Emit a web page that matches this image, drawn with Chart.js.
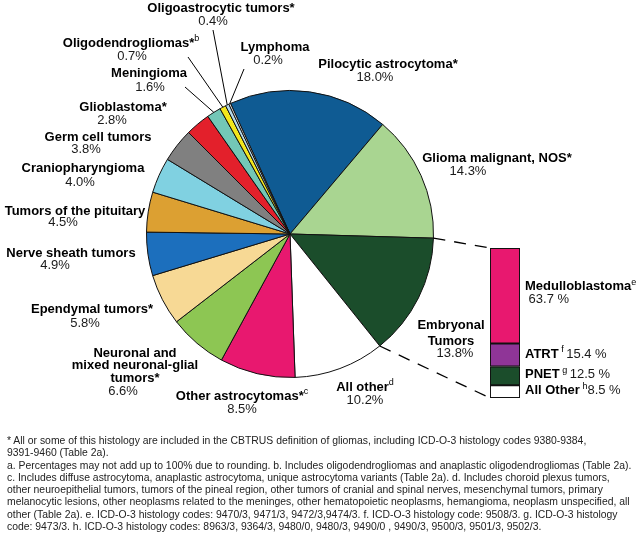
<!DOCTYPE html>
<html>
<head>
<meta charset="utf-8">
<script src="https://cdn.jsdelivr.net/npm/chart.js@4.4.1/dist/chart.umd.min.js"></script>
<style>
  html, body { margin: 0; padding: 0; background: #fff; }
  #wrap { position: relative; width: 640px; height: 537px; overflow: hidden; }
  #wrap canvas { position: absolute; left: 0; top: 0; }
  #notes {
    position: absolute; left: 7px; top: 435px;
    font: 10.4px "Liberation Sans", Arial, sans-serif; line-height: 12.3px;
    color: #222; white-space: pre;
  }
</style>
</head>
<body>
<div id="wrap">
  <canvas id="pie" width="640" height="430"></canvas>
  <canvas id="bar" width="640" height="430"></canvas>
  <div id="notes"></div>
</div>
<script>
// histologies, clockwise from the top
var categories = ["Pilocytic astrocytoma*", "Glioma malignant, NOS*", "Embryonal Tumors", "All other",
    "Other astrocytomas*", "Neuronal and mixed neuronal-glial tumors*", "Ependymal tumors*",
    "Nerve sheath tumors", "Tumors of the pituitary", "Craniopharyngioma", "Germ cell tumors",
    "Glioblastoma*", "Meningioma", "Oligodendrogliomas*", "Oligoastrocytic tumors*", "Lymphoma"];
var shares = [18.0, 14.3, 13.8, 10.2, 8.5, 6.6, 5.8, 4.9, 4.5, 4.0, 3.8, 2.8, 1.6, 0.7, 0.4, 0.2];
var notes = ["", "", "", "d", "c", "", "", "", "", "", "", "", "", "b", "", ""];

// embryonal tumors broken down
var embParts = ["Medulloblastoma", "ATRT", "PNET", "All Other"];
var embShares = [63.7, 15.4, 12.5, 8.5];
var embNotes = ["e", "f", "g", "h"];

var sliceColors = ["#0f5b93", "#a9d591", "#1b4d2b", "#ffffff", "#e8186f", "#8dc653", "#f7d995",
    "#1c6fbd", "#dca032", "#80d1e1", "#808080", "#e3202b", "#73c7b7", "#f3e61d", "#b3d8ea", "#e6e6e6"];
var embColors = ["#e8186f", "#8f3597", "#1b4d2b", "#ffffff"];

// where each slice label sits: name (x,y), percent (px,py), optional leader start
var labelSpots = [
    { x: 388, y: 64, px: 375, py: 77 },
    { x: 497, y: 158, px: 468, py: 171 },
    { x: 451, y: 325, px: 455, py: 353, lines: ["Embryonal", "Tumors"], lh: 16 },
    { x: 365, y: 387, px: 365, py: 400 },
    { x: 242, y: 396, px: 242, py: 409 },
    { x: 135, y: 353, px: 123, py: 391, lines: ["Neuronal and", "mixed neuronal-glial", "tumors*"], lh: 12.5 },
    { x: 92, y: 309, px: 85, py: 323 },
    { x: 71, y: 253, px: 55, py: 265 },
    { x: 75, y: 211, px: 63, py: 222 },
    { x: 83, y: 168, px: 80, py: 182 },
    { x: 98, y: 137, px: 86, py: 149 },
    { x: 123, y: 107, px: 112, py: 120 },
    { x: 149, y: 73, px: 150, py: 87, lead: [185, 87] },
    { x: 131, y: 43, px: 132, py: 56, lead: [188, 57] },
    { x: 221, y: 8, px: 213, py: 21, lead: [213, 30] },
    { x: 275, y: 47, px: 268, py: 60, lead: [244, 69] }
];

var FONT = '"Liberation Sans", Arial, sans-serif';

function drawRich(ctx, parts, x, y, align) {
    var total = 0;
    parts.forEach(function (p) {
        ctx.font = (p.sup ? "9px " : (p.bold ? "bold 13px " : "13px ")) + FONT;
        p.w = ctx.measureText(p.t).width;
        total += p.w;
    });
    var cx = align === "center" ? x - total / 2 : x;
    parts.forEach(function (p) {
        ctx.font = (p.sup ? "9px " : (p.bold ? "bold 13px " : "13px ")) + FONT;
        ctx.fillStyle = p.bold || p.sup ? "#000" : "#1a1a1a";
        ctx.fillText(p.t, cx, p.sup ? y - 4 : y);
        cx += p.w;
    });
}

var pieLabels = {
    id: "pieLabels",
    afterDraw: function (chart) {
        var ctx = chart.ctx;
        var arcs = chart.getDatasetMeta(0).data;
        ctx.save();
        ctx.textBaseline = "middle";
        ctx.textAlign = "left";
        labelSpots.forEach(function (s, i) {
            if (s.lead) {
                var a = arcs[i];
                var mid = (a.startAngle + a.endAngle) / 2;
                ctx.beginPath();
                ctx.moveTo(s.lead[0], s.lead[1]);
                ctx.lineTo(a.x + Math.cos(mid) * a.outerRadius, a.y + Math.sin(mid) * a.outerRadius);
                ctx.strokeStyle = "#000";
                ctx.lineWidth = 1;
                ctx.stroke();
            }
            var lines = s.lines || [categories[i]];
            lines.forEach(function (ln, k) {
                var parts = [{ t: ln, bold: true }];
                if (k === lines.length - 1 && notes[i]) parts.push({ t: notes[i], sup: true });
                drawRich(ctx, parts, s.x, s.y + k * (s.lh || 13), "center");
            });
            drawRich(ctx, [{ t: shares[i].toFixed(1) + "%" }], s.px, s.py, "center");
        });
        ctx.restore();
    }
};

var pieChart = new Chart(document.getElementById("pie"), {
    type: "pie",
    data: {
        labels: categories,
        datasets: [{
            data: shares,
            backgroundColor: sliceColors,
            borderColor: "#111",
            borderWidth: 1
        }]
    },
    options: {
        responsive: false,
        animation: false,
        rotation: -24.5,
        layout: { padding: { left: 146, right: 206, top: 90, bottom: 52 } },
        plugins: { legend: { display: false }, tooltip: { enabled: false } }
    },
    plugins: [pieLabels]
});

var barExtras = {
    id: "barExtras",
    afterDraw: function (chart) {
        var ctx = chart.ctx;
        var area = chart.chartArea;
        var emb = pieChart.getDatasetMeta(0).data[2];
        ctx.save();
        // dashed connectors from the embryonal slice to the bar
        ctx.setLineDash([12, 9]);
        ctx.strokeStyle = "#000";
        ctx.lineWidth = 1.3;
        [[emb.startAngle, area.top], [emb.endAngle, area.bottom]].forEach(function (c) {
            ctx.beginPath();
            ctx.moveTo(emb.x + Math.cos(c[0]) * emb.outerRadius, emb.y + Math.sin(c[0]) * emb.outerRadius);
            ctx.lineTo(area.left, c[1]);
            ctx.stroke();
        });
        ctx.setLineDash([]);
        ctx.textBaseline = "middle";
        ctx.textAlign = "left";
        embParts.forEach(function (p, i) {
            var bar = chart.getDatasetMeta(i).data[0];
            var mid = (bar.y + bar.base) / 2;
            var tx = area.right + 5;
            var pct = embShares[i].toFixed(1) + " %";
            if (i === 0) {
                drawRich(ctx, [{ t: p, bold: true }, { t: embNotes[i], sup: true }], tx, mid - 9, "left");
                drawRich(ctx, [{ t: " " + pct }], tx, mid + 4, "left");
            } else {
                drawRich(ctx, [{ t: p, bold: true }, { t: " " + embNotes[i] + (i === 3 ? "" : " "), sup: true }, { t: pct }], tx, mid - 1, "left");
            }
        });
        ctx.restore();
    }
};

var barChart = new Chart(document.getElementById("bar"), {
    type: "bar",
    data: {
        labels: ["Embryonal Tumors"],
        datasets: embParts.map(function (p, i) {
            return {
                label: p,
                data: [embShares[i]],
                backgroundColor: embColors[i],
                borderColor: "#111",
                borderWidth: 1.3,
                borderSkipped: false,
                barPercentage: 1,
                categoryPercentage: 1
            };
        })
    },
    options: {
        responsive: false,
        animation: false,
        layout: { padding: { left: 490, right: 120, top: 248, bottom: 32 } },
        scales: {
            x: { display: false, stacked: true },
            y: { display: false, stacked: true, reverse: true, min: 0, max: 100.1 }
        },
        plugins: { legend: { display: false }, tooltip: { enabled: false } }
    },
    plugins: [barExtras]
});

document.getElementById("notes").textContent = [
    "* All or some of this histology are included in the CBTRUS definition of gliomas, including ICD-O-3 histology codes 9380-9384,",
    "9391-9460 (Table 2a).",
    "a. Percentages may not add up to 100% due to rounding. b. Includes oligodendrogliomas and anaplastic oligodendrogliomas (Table 2a).",
    "c. Includes diffuse astrocytoma, anaplastic astrocytoma, unique astrocytoma variants (Table 2a). d. Includes choroid plexus tumors,",
    "other neuroepithelial tumors, tumors of the pineal region, other tumors of cranial and spinal nerves, mesenchymal tumors, primary",
    "melanocytic lesions, other neoplasms related to the meninges, other hematopoietic neoplasms, hemangioma, neoplasm unspecified, all",
    "other (Table 2a). e. ICD-O-3 histology codes: 9470/3, 9471/3, 9472/3,9474/3. f. ICD-O-3 histology code: 9508/3. g. ICD-O-3 histology",
    "code: 9473/3. h. ICD-O-3 histology codes: 8963/3, 9364/3, 9480/0, 9480/3, 9490/0 , 9490/3, 9500/3, 9501/3, 9502/3."
].join("\n");
</script>
</body>
</html>
